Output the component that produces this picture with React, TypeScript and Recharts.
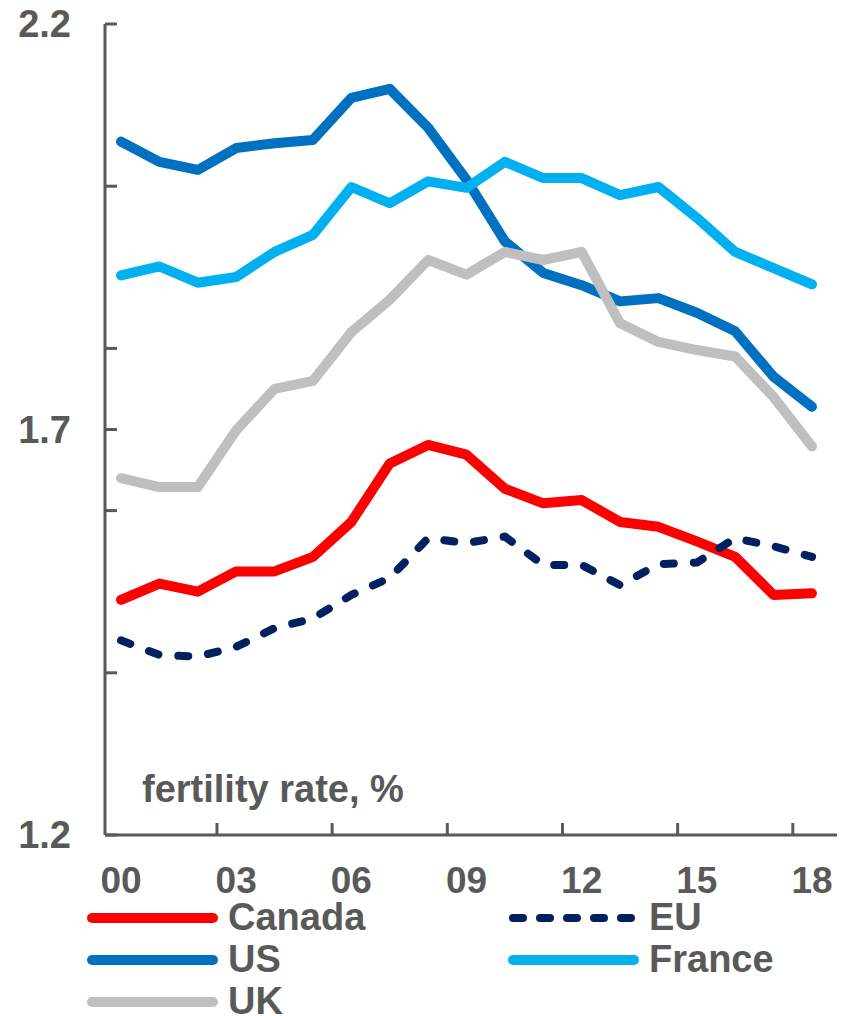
import { LineChart, Line, XAxis, YAxis } from 'recharts';

const years = ['00', '01', '02', '03', '04', '05', '06', '07', '08', '09', '10', '11', '12', '13', '14', '15', '16', '17', '18'];

const canada = [1.49, 1.51, 1.5, 1.525, 1.525, 1.543, 1.586, 1.658, 1.681, 1.669, 1.627, 1.609, 1.613, 1.586, 1.58, 1.562, 1.543, 1.496, 1.498];
const us = [2.055, 2.03, 2.02, 2.047, 2.053, 2.057, 2.109, 2.12, 2.072, 2.008, 1.932, 1.893, 1.878, 1.858, 1.862, 1.844, 1.821, 1.765, 1.728];
const france = [1.89, 1.901, 1.881, 1.888, 1.919, 1.94, 1.999, 1.979, 2.006, 1.998, 2.03, 2.01, 2.01, 1.989, 1.999, 1.961, 1.919, 1.899, 1.879];
const uk = [1.64, 1.629, 1.629, 1.699, 1.75, 1.76, 1.82, 1.86, 1.909, 1.891, 1.919, 1.909, 1.919, 1.831, 1.808, 1.798, 1.79, 1.74, 1.679];
const eu = [1.44, 1.422, 1.42, 1.432, 1.455, 1.467, 1.496, 1.517, 1.566, 1.56, 1.568, 1.533, 1.533, 1.508, 1.534, 1.536, 1.566, 1.556, 1.543];

// labels every 3 years, tick marks sit between categories
const xLabelTicks = [0, 3, 6, 9, 12, 15, 18];
const xMarkTicks = [2.5, 5.5, 8.5, 11.5, 14.5, 17.5];
const yLabelTicks = [1.2, 1.7, 2.2];
const yMarkTicks = [1.2, 1.4, 1.6, 1.7, 1.8, 2.0, 2.2];

const TEXT = '#595959';
const FONT = 'Arial, "Liberation Sans", Helvetica, sans-serif';

const series = [
  { key: 'canada', name: 'Canada', color: '#FF0000', dash: false },
  { key: 'us', name: 'US', color: '#0070C0', dash: false },
  { key: 'france', name: 'France', color: '#00B0F0', dash: false },
  { key: 'uk', name: 'UK', color: '#BFBFBF', dash: false },
  { key: 'eu', name: 'EU', color: '#002060', dash: true },
];

// legend order: two columns
const legendOrder = ['canada', 'eu', 'us', 'france', 'uk'];

const data = years.map((year, i) => ({
  idx: i,
  year,
  canada: canada[i],
  us: us[i],
  france: france[i],
  uk: uk[i],
  eu: eu[i],
}));

function XTick(props: any) {
  const { x, y, payload } = props;
  const v = payload.value;
  if (xMarkTicks.includes(v)) {
    return <line x1={x} x2={x} y1={y} y2={y - 12} stroke={TEXT} strokeWidth={3} />;
  }
  return (
    <text x={x} y={y + 58} textAnchor="middle" fill={TEXT} fontSize={37} fontWeight="bold" fontFamily={FONT}>
      {years[v]}
    </text>
  );
}

function YTick(props: any) {
  const { x, y, payload } = props;
  const v = payload.value;
  return (
    <g>
      <line x1={x} x2={x + 12} y1={y} y2={y} stroke={TEXT} strokeWidth={3} />
      {yLabelTicks.includes(v) && (
        <text x={x - 34} y={y + 13} textAnchor="end" fill={TEXT} fontSize={38} fontWeight="bold" fontFamily={FONT}>
          {v.toFixed(1)}
        </text>
      )}
    </g>
  );
}

function ChartLegend() {
  return (
    <svg width={850} height={130} style={{ position: 'absolute', left: 0, top: 886 }}>
      {legendOrder.map((key, i) => {
        const s = series.find((d) => d.key === key)!;
        const col = i % 2;
        const row = Math.floor(i / 2);
        const lx = col === 0 ? 92 : 513;
        const cy = 32 + row * 42;
        return (
          <g key={key}>
            <line
              x1={lx}
              x2={lx + 121}
              y1={cy}
              y2={cy}
              stroke={s.color}
              strokeWidth={s.dash ? 8 : 10}
              strokeLinecap="round"
              strokeDasharray={s.dash ? '10 17' : undefined}
            />
            <text x={lx + 136} y={cy + 12} fill={TEXT} fontSize={38} fontWeight="bold" fontFamily={FONT}>
              {s.name}
            </text>
          </g>
        );
      })}
    </svg>
  );
}

export default function App() {
  return (
    <div style={{ position: 'absolute', left: 0, top: 0, width: 850, height: 1016, background: '#fff' }}>
      <LineChart width={850} height={900} data={data} margin={{ top: 24, right: 13, bottom: 5, left: 0 }}>
        <XAxis
          dataKey="idx"
          type="number"
          domain={[0, 18]}
          ticks={[...xLabelTicks, ...xMarkTicks].sort((a, b) => a - b)}
          interval={0}
          padding={{ left: 16, right: 25 }}
          height={60}
          tickLine={false}
          tickSize={0}
          tickMargin={0}
          axisLine={{ stroke: TEXT, strokeWidth: 3 }}
          tick={<XTick />}
        />
        <YAxis
          type="number"
          domain={[1.2, 2.2]}
          ticks={yMarkTicks}
          interval={0}
          width={105}
          tickLine={false}
          tickSize={0}
          tickMargin={0}
          axisLine={{ stroke: TEXT, strokeWidth: 3 }}
          tick={<YTick />}
        />
        {series.map((s) => (
          <Line
            key={s.key}
            dataKey={s.key}
            name={s.name}
            type="linear"
            stroke={s.color}
            strokeWidth={s.dash ? 8 : 10}
            strokeLinecap="round"
            strokeLinejoin="round"
            strokeDasharray={s.dash ? '10 20' : undefined}
            dot={false}
            activeDot={false}
            isAnimationActive={false}
          />
        ))}
      </LineChart>
      <svg width={850} height={900} style={{ position: 'absolute', left: 0, top: 0, pointerEvents: 'none' }}>
        <text x={142} y={802} fill={TEXT} fontSize={38} fontWeight="bold" fontFamily={FONT}>
          fertility rate, %
        </text>
      </svg>
      <ChartLegend />
    </div>
  );
}
